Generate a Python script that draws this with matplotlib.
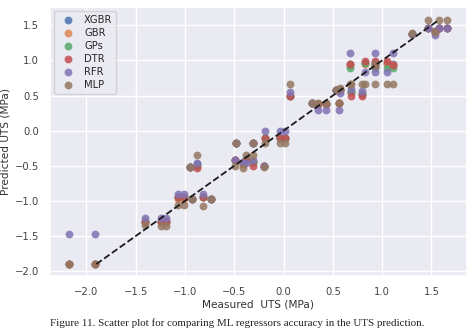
import matplotlib
matplotlib.use("Agg")
import matplotlib.pyplot as plt
import seaborn as sns
import numpy as np

sns.set_theme(style="darkgrid")
plt.rcParams['font.family'] = ['DejaVu Sans']

models = ["XGBR", "GBR", "GPs", "DTR", "RFR", "MLP"]

measured = [-2.18, -1.91, -1.41, -1.24, -1.19, -1.07, -1.01, -0.93, -0.95, -0.88,
            -0.82, -0.74, -0.49, -0.48, -0.41, -0.38, -0.31, -0.31, -0.20, -0.19,
            -0.04, 0.01, 0.07, 0.29, 0.35, 0.43, 0.56, 0.53, 0.57, 0.68,
            0.80, 0.67, 0.83, 0.93, 0.93, 1.05, 1.11, 1.30, 1.47, 1.54,
            1.58, 1.66]

xgbr = [-1.90, -1.90, -1.30, -1.28, -1.30, -0.95, -0.95, -0.97, -0.52, -0.48,
        -0.95, -0.97, -0.42, -0.18, -0.45, -0.40, -0.45, -0.18, -0.50, -0.11,
        -0.11, -0.11, 0.50, 0.39, 0.38, 0.38, 0.40, 0.58, 0.58, 0.55,
        0.52, 0.95, 0.97, 0.97, 0.90, 0.96, 0.95, 1.38, 1.46, 1.42,
        1.46, 1.46]
gbr = [-1.90, -1.90, -1.30, -1.30, -1.30, -0.97, -0.97, -0.97, -0.52, -0.50,
       -0.95, -0.97, -0.42, -0.18, -0.48, -0.40, -0.45, -0.18, -0.50, -0.11,
       -0.11, -0.11, 0.50, 0.39, 0.38, 0.38, 0.40, 0.58, 0.58, 0.55,
       0.52, 0.93, 0.95, 0.96, 0.90, 0.95, 0.93, 1.38, 1.46, 1.40,
       1.46, 1.46]
gps = [-1.90, -1.90, -1.28, -1.28, -1.28, -0.95, -0.95, -0.97, -0.52, -0.50,
       -0.95, -0.97, -0.42, -0.18, -0.48, -0.40, -0.45, -0.18, -0.50, -0.11,
       -0.11, -0.11, 0.50, 0.39, 0.38, 0.38, 0.40, 0.58, 0.58, 0.55,
       0.52, 0.89, 0.96, 0.95, 0.89, 0.89, 0.89, 1.38, 1.46, 1.40,
       1.46, 1.46]
dtr = [-1.90, -1.90, -1.30, -1.30, -1.28, -0.95, -0.95, -0.97, -0.52, -0.53,
       -0.95, -0.97, -0.42, -0.18, -0.48, -0.42, -0.50, -0.18, -0.50, -0.11,
       -0.11, -0.11, 0.50, 0.39, 0.38, 0.38, 0.40, 0.58, 0.58, 0.50,
       0.50, 0.95, 0.99, 0.99, 0.93, 0.99, 0.93, 1.38, 1.46, 1.40,
       1.46, 1.46]
rfr = [-1.47, -1.47, -1.25, -1.25, -1.25, -0.90, -0.90, -0.97, -0.52, -0.46,
       -0.90, -0.97, -0.42, -0.18, -0.46, -0.46, -0.42, -0.18, -0.50, 0.00,
       0.00, 0.00, 0.55, 0.39, 0.29, 0.29, 0.29, 0.58, 0.53, 0.59,
       0.56, 1.11, 0.83, 1.11, 0.83, 0.83, 1.11, 1.37, 1.46, 1.36,
       1.46, 1.46]
mlp = [-1.90, -1.90, -1.35, -1.36, -1.36, -1.06, -1.06, -0.97, -0.52, -0.35,
       -1.07, -0.97, -0.50, -0.18, -0.53, -0.35, -0.35, -0.18, -0.52, -0.18,
       -0.18, -0.18, 0.67, 0.39, 0.39, 0.39, 0.40, 0.58, 0.61, 0.67,
       0.67, 0.67, 0.67, 0.67, 0.95, 0.67, 0.67, 1.39, 1.57, 1.40,
       1.57, 1.57]

preds = [xgbr, gbr, gps, dtr, rfr, mlp]
colors = sns.color_palette("deep", 6)

fig = plt.figure(figsize=(4.74, 3.35), dpi=100)
ax = fig.add_axes([0.1055, 0.176, 0.8795, 0.803])

for name, p, c in zip(models, preds, colors):
    ax.scatter(measured, p, s=32, color=c, alpha=0.85, label=name, linewidths=0)

allp = np.concatenate([np.array(p) for p in preds])
lo, hi = allp.min(), allp.max()
ax.plot([lo, hi], [lo, hi], 'k--', lw=1.3)

ax.set_xlim(-2.37, 1.86)
ax.set_ylim(-2.07, 1.76)
ax.set_xticks(np.arange(-2.0, 1.51, 0.5))
ax.set_yticks(np.arange(-2.0, 1.51, 0.5))
ax.tick_params(labelsize=7.2, pad=2, colors='#444444')
ax.set_xlabel("Measured  UTS (MPa)", fontsize=7.6, labelpad=2, color='#333333')
ax.set_ylabel("Predicted UTS (MPa)", fontsize=7.6, labelpad=3, color='#333333')

leg = ax.legend(loc="upper left", fontsize=7.2, markerscale=1.0, handletextpad=0.6,
                borderpad=0.4, labelspacing=0.3, borderaxespad=0.4)

fig.text(0.5, 0.022, "Figure 11. Scatter plot for comparing ML regressors accuracy in the UTS prediction.",
         ha="center", va="bottom", fontsize=7.9, family="Liberation Serif", color='#222222')

fig.savefig("out.png", dpi=100)
